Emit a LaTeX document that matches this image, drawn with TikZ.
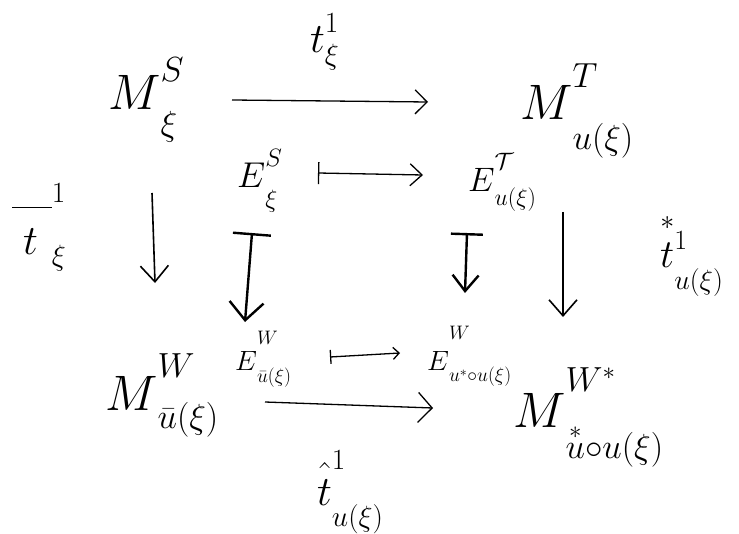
\RequirePackage{fix-cm}
\documentclass[tikz,border=0pt]{standalone}
\usepackage{amsmath}
\usetikzlibrary{arrows.meta}
% invisible strut: height #1 bp, depth #2 bp (places the scripts)
\newcommand\strt[2]{\rule[-#2bp]{0pt}{\dimexpr#1bp+#2bp\relax}}
\begin{document}
\begin{tikzpicture}[x=1bp,y=-1bp,
  big/.style={anchor=base west,inner sep=0pt,font=\fontsize{50}{60}\selectfont},
  mid/.style={anchor=base west,inner sep=0pt,font=\fontsize{36}{43}\selectfont},
  sml/.style={anchor=base west,inner sep=0pt,font=\fontsize{28}{34}\selectfont},
  lab/.style={anchor=base west,inner sep=0pt,font=\fontsize{42}{50}\selectfont},
  arr/.style={line width=1.3bp,-{Straight Barb[length=12bp,width=24bp]}},
  varr/.style={line width=1.6bp,-{Straight Barb[length=16bp,width=28bp]}},
  marr/.style={line width=1.3bp,{Bar[width=22bp]}-{Straight Barb[length=12bp,width=22bp]}},
  smarr/.style={line width=1.3bp,{Bar[width=14bp]}-{Straight Barb[length=6bp,width=12bp]}},
  tharr/.style={line width=2.4bp,{Bar[width=38bp]}-{Straight Barb[length=18bp,width=34bp]}},
]
\useasboundingbox (0,0) rectangle (739,534);
\fill[white] (0,0) rectangle (739,534);

% objects
\node[big] (MS) at (108,110) {${M\strt{41.5}{24}}^{S}_{\xi}$};
\node[big] (MT) at (520,120) {${M\strt{45.5}{28}}^{T}_{u(\xi)}$};
\node[mid] (ES) at (237,188) {${E\strt{30.7}{18.7}}^{S}_{\xi}$};
\node[mid,font=\fontsize{34}{40}\selectfont] (EJ) at (468,192) {${E\strt{31.2}{12.8}}^{\mathcal{T}}_{u(\xi)}$};
\node[big] (MW) at (105,410) {${M\strt{45.5}{16.3}}^{W}_{\bar{u}(\xi)}$};
\node[sml] (EWb) at (235,370) {${E\strt{32.6}{12}}^{W}_{\bar{u}(\xi)}$};
\node[sml] (EWs) at (427,370) {${E\strt{37.6}{11}}^{W}_{u^{*}\circ u(\xi)}$};
\node[big] (MWs) at (513,427) {${M\strt{48.5}{29.3}}^{W^{*}}_{\overset{*}{u}\circ u(\xi)}$};

% labels
\node[lab] (ltop) at (310,53) {${t\strt{31.4}{10.5}}^{1}_{\xi}$};
\node[lab] (lleft) at (12,255) {${\overline{\kern11bp\rule{0pt}{44bp}t\kern14bp}\strt{63.4}{8.5}}^{1}_{\xi}$};
\node[lab,font=\fontsize{40}{48}\selectfont] (lright) at (660,268) {${\smash{\overset{*}{\rule{0pt}{34bp}t}}\strt{28.8}{20.6}}^{1}_{u(\xi)}$};
\node[lab] (lbot) at (317,505) {${\hat{\rule{0pt}{32bp}t}\strt{46.4}{20.5}}^{1}_{u(\xi)}$};

% connectors
\draw[arr] ([shift={(124,-10)}]MS.base west) -- ([shift={(-92,-18)}]MT.base west);
\draw[marr] ([shift={(81,-15)}]ES.base west) -- ([shift={(-45,-17)}]EJ.base west);
\draw[varr] ([shift={(44,83)}]MS.base west) -- ([shift={(50,-127)}]MW.base west);
\draw[tharr] ([shift={(15,45)}]ES.base west) -- ([shift={(10,-48)}]EWb.base west);
\draw[tharr,{Bar[width=32bp]}-{Straight Barb[length=16bp,width=26bp]}] ([shift={(-1,41)}]EJ.base west) -- ([shift={(38,-77)}]EWs.base west);
\draw[varr] ([shift={(43,92)}]MT.base west) -- ([shift={(50,-110)}]MWs.base west);
\draw[smarr] ([shift={(95,-13)}]EWb.base west) -- ([shift={(-27,-17)}]EWs.base west);
\draw[arr,-{Straight Barb[length=14bp,width=30bp]}] ([shift={(160,-8)}]MW.base west) -- ([shift={(-80,-19)}]MWs.base west);
\end{tikzpicture}
\end{document}
